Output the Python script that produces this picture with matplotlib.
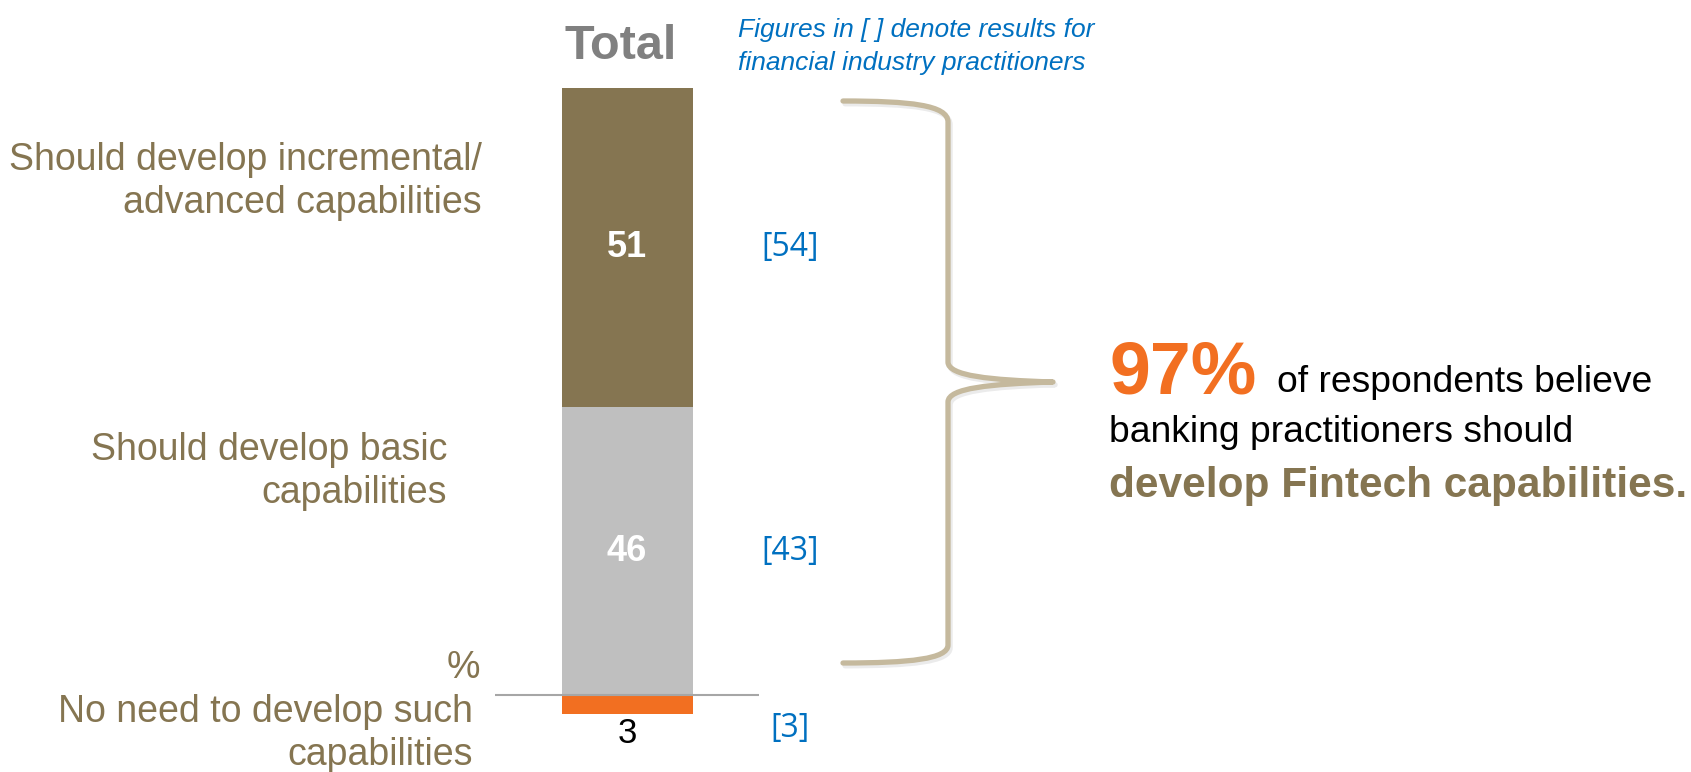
import matplotlib
matplotlib.use("Agg")
import matplotlib.pyplot as plt
from matplotlib.path import Path
from matplotlib.patches import PathPatch
import matplotlib.patheffects as pe

plt.rcParams['font.family'] = ['Liberation Sans', 'DejaVu Sans']

# survey shares (%), all respondents vs financial industry practitioners
categories = ["Should develop incremental/\nadvanced capabilities",
              "Should develop basic\ncapabilities",
              "No need to develop such\ncapabilities"]
total = [51, 46, 3]
practitioners = [54, 43, 3]
headline = 97

BROWN = "#857551"
GREY_BAR = "#bfbfbf"
ORANGE = "#f26f21"
BLUE = "#0070c0"
BRACE = "#c5b99d"

W, H = 1691, 772
fig = plt.figure(figsize=(W / 100, H / 100), dpi=100)

# bar axes: x in pixels, y in percent (0 sits on the baseline rule)
px_per_pt = (695 - 88) / (total[0] + total[1])
ax = fig.add_axes([0, 0, 1, 1])
ax.set_xlim(0, W)
ax.set_ylim(-(H - 695) / px_per_pt, 695 / px_per_pt)
ax.axis("off")

bar_x, bar_w = 627, 131
adv, basic, none = total
ax.bar(bar_x, basic, bottom=0, width=bar_w, color=GREY_BAR, zorder=2)
ax.bar(bar_x, adv, bottom=basic, width=bar_w, color=BROWN, zorder=2)
ax.bar(bar_x, -none, bottom=0, width=bar_w, color=ORANGE, zorder=2)
ax.hlines(0, 495, 759, color="#a6a6a6", lw=1.5, zorder=3)

# values inside / below the bar
ax.text(bar_x, basic + adv / 2, str(adv), ha="center", va="center",
        color="white", fontsize=26, fontweight="bold")
ax.text(bar_x, basic / 2, str(basic), ha="center", va="center",
        color="white", fontsize=26, fontweight="bold")
ax.annotate(str(none), (bar_x, -none), xytext=(0, -2), textcoords="offset points",
            ha="center", va="top", fontsize=25, color="black")

# practitioner figures in brackets
br_x = 790
br_font = ["Open Sans", "DejaVu Sans"]
ax.text(br_x, basic + adv / 2, "[%d]" % practitioners[0], ha="center", va="center",
        color=BLUE, fontsize=23, family=br_font)
ax.text(br_x, basic / 2, "[%d]" % practitioners[1], ha="center", va="center",
        color=BLUE, fontsize=23, family=br_font)
ax.text(br_x, -none - 2.3, "[%d]" % practitioners[2], ha="center", va="center",
        color=BLUE, fontsize=23, family=br_font)

# overlay in pixel coords (y down) for labels and the brace
ov = fig.add_axes([0, 0, 1, 1])
ov.set_xlim(0, W)
ov.set_ylim(H, 0)
ov.axis("off")
ov.patch.set_visible(False)

ov.text(621, 59, "Total", ha="center", va="baseline", fontsize=35,
        fontweight="bold", color="#808080")
ov.text(738, 37, "Figures in [ ] denote results for", ha="left", va="baseline",
        fontsize=19, style="italic", color=BLUE)
ov.text(738, 70, "financial industry practitioners", ha="left", va="baseline",
        fontsize=19, style="italic", color=BLUE)

# category labels, right aligned
label_pos = [(482, 170), (447, 460), (473, 722)]
for (x, y), cat in zip(label_pos, categories):
    for i, line in enumerate(cat.split("\n")):
        ov.text(x, y + i * 43, line, ha="right", va="baseline",
                fontsize=27, color=BROWN)
ov.text(480, 678, "%", ha="right", va="baseline", fontsize=27, color=BROWN)

# curly brace spanning the two "develop" segments
verts = [(843, 101), (910, 101), (948, 105), (948, 122),
         (948, 362),
         (948, 376), (990, 380), (1053, 382),
         (990, 384), (948, 388), (948, 402),
         (948, 645),
         (948, 659), (910, 663), (843, 663)]
codes = [Path.MOVETO, Path.CURVE4, Path.CURVE4, Path.CURVE4,
         Path.LINETO,
         Path.CURVE4, Path.CURVE4, Path.CURVE4,
         Path.CURVE4, Path.CURVE4, Path.CURVE4,
         Path.LINETO,
         Path.CURVE4, Path.CURVE4, Path.CURVE4]
brace = PathPatch(Path(verts, codes), facecolor="none", edgecolor=BRACE,
                  lw=3.8, capstyle="round", joinstyle="round")
brace.set_path_effects([pe.SimpleLineShadow(offset=(1.5, -2), shadow_color="#b0b0b0",
                                            alpha=0.25),
                        pe.Normal()])
ov.add_patch(brace)

# headline statement
ov.text(1109, 393, "%d%%" % headline, ha="left", va="baseline", fontsize=53,
        fontweight="bold", color=ORANGE)
ov.text(1277, 392, "of respondents believe", ha="left", va="baseline",
        fontsize=26.8, color="black")
ov.text(1109, 442, "banking practitioners should", ha="left", va="baseline",
        fontsize=26.8, color="black")
ov.text(1109, 497, "develop Fintech capabilities.", ha="left", va="baseline",
        fontsize=30.5, fontweight="bold", color=BROWN)

fig.savefig("out.png", dpi=100)
